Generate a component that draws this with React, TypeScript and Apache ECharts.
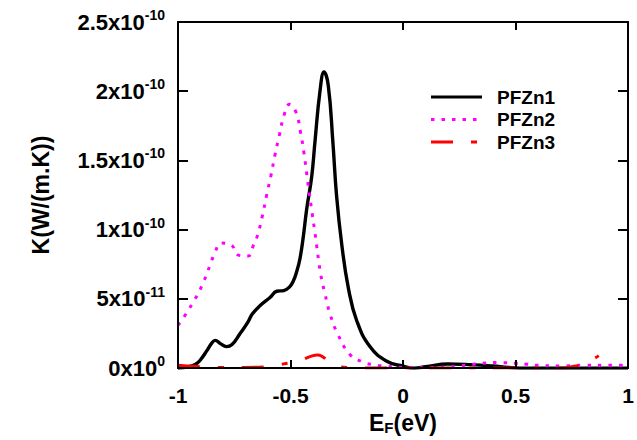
import React, { useEffect, useRef } from "react";
import * as echarts from "echarts";

// PFZn1 (black solid)
const pfzn1X = [-1.0, -0.95, -0.92, -0.9, -0.87, -0.85, -0.835, -0.81, -0.785, -0.76, -0.724, -0.69, -0.67, -0.636, -0.591, -0.561, -0.53, -0.505, -0.488, -0.472, -0.458, -0.443, -0.428, -0.406, -0.391, -0.369, -0.351, -0.332, -0.312, -0.295, -0.272, -0.243, -0.206, -0.147, -0.072, 0.0, 0.05, 0.1, 0.2, 0.3, 0.4, 0.47, 0.55, 0.75, 1.0];
const pfzn1Y = [0.0, 0.01, 0.03, 0.06, 0.13, 0.18, 0.2, 0.175, 0.155, 0.17, 0.25, 0.33, 0.39, 0.45, 0.51, 0.555, 0.56, 0.585, 0.627, 0.7, 0.79, 0.95, 1.15, 1.38, 1.64, 2.0, 2.14, 2.04, 1.64, 1.24, 0.89, 0.58, 0.344, 0.156, 0.05, 0.014, 0.0, 0.01, 0.03, 0.025, 0.015, 0.005, 0.0, 0.0, 0.0];

// PFZn2 (magenta dotted)
const pfzn2X = [-1.0, -0.961, -0.935, -0.91, -0.89, -0.872, -0.855, -0.836, -0.81, -0.764, -0.732, -0.688, -0.665, -0.647, -0.625, -0.606, -0.587, -0.569, -0.55, -0.528, -0.505, -0.476, -0.455, -0.44, -0.422, -0.404, -0.391, -0.366, -0.347, -0.324, -0.29, -0.236, -0.18, -0.135, -0.08, 0.0, 0.1, 0.2, 0.25, 0.3, 0.35, 0.42, 0.5, 0.55, 0.6, 0.7, 0.8, 0.9, 1.0];
const pfzn2Y = [0.31, 0.4, 0.47, 0.54, 0.61, 0.68, 0.757, 0.832, 0.903, 0.89, 0.816, 0.81, 0.887, 0.957, 1.1, 1.25, 1.39, 1.54, 1.68, 1.83, 1.905, 1.85, 1.7, 1.55, 1.33, 1.12, 0.974, 0.68, 0.538, 0.39, 0.245, 0.099, 0.045, 0.025, 0.014, 0.005, 0.003, 0.008, 0.015, 0.025, 0.035, 0.04, 0.035, 0.028, 0.02, 0.015, 0.02, 0.02, 0.02];

// PFZn3 (red dashed)
const pfzn3X = [-1.0, -0.95, -0.9, -0.8, -0.7, -0.6, -0.55, -0.5, -0.45, -0.41, -0.38, -0.36, -0.33, -0.3, -0.25, -0.1, 0.2, 0.5, 0.7, 0.75, 0.8, 0.85, 0.87];
const pfzn3Y = [0.02, 0.015, 0.01, 0.005, 0.005, 0.01, 0.025, 0.04, 0.06, 0.085, 0.095, 0.085, 0.05, 0.02, 0.005, 0.0, 0.0, 0.0, 0.0, 0.01, 0.03, 0.07, 0.09];

const SCALE = 1e-10;
const xTicks = [-1, -0.5, 0, 0.5, 1];
const seriesNames = ["PFZn1", "PFZn2", "PFZn3"];
const seriesColors = ["#000000", "#ff00ff", "#ff0000"];
const seriesDash: (number[] | null)[] = [null, [3.5, 7], [22, 18, 6, 18]];

const FONT = "'Liberation Sans', Arial, sans-serif";

function pairs(xs: number[], ys: number[]) {
  return xs.map((x, i) => [x, ys[i] * SCALE]);
}

function sciLabel(v: number) {
  if (v === 0) return "{m|0x10}{s|0}";
  const e = Math.floor(Math.log10(Math.abs(v)) + 1e-9);
  const m = parseFloat((v / Math.pow(10, e)).toFixed(2));
  return `{m|${m}x10}{s|${e}}`;
}

export default function App() {
  const ref = useRef<HTMLDivElement>(null);
  useEffect(() => {
    const chart = echarts.init(ref.current!, undefined, { renderer: "svg" });
    const axisLine = { show: true, onZero: false, lineStyle: { color: "#000", width: 2 } };
    const legendGraphics: any[] = [];
    seriesNames.forEach((name, i) => {
      const y = 97 + i * 22.5;
      legendGraphics.push({
        type: "line",
        shape: { x1: 431, y1: y, x2: 482, y2: y },
        style: {
          stroke: seriesColors[i],
          lineWidth: 3,
          lineDash: seriesDash[i] || undefined,
          lineCap: "butt",
        },
        z: 10,
      });
      legendGraphics.push({
        type: "text",
        x: 497,
        y: y,
        style: {
          text: name,
          fontFamily: FONT,
          fontWeight: "bold",
          fontSize: 19,
          fill: "#000",
          verticalAlign: "middle",
          align: "left",
        },
        z: 10,
      });
    });
    const makeSeries = (i: number, xs: number[], ys: number[]) => ({
      name: seriesNames[i],
      type: "line",
      data: pairs(xs, ys),
      smooth: 0.45,
      showSymbol: false,
      symbol: "none",
      z: 2,
      lineStyle: {
        color: seriesColors[i],
        width: i === 0 ? 3.4 : 3,
        type: seriesDash[i] || "solid",
        cap: "butt",
      },
      itemStyle: { color: seriesColors[i] },
    });
    chart.setOption({
      animation: false,
      backgroundColor: "#fff",
      grid: { left: 178, right: 9, top: 22, bottom: 65 },
      graphic: legendGraphics,
      xAxis: [
        {
          type: "value",
          min: -1,
          max: 1,
          interval: 0.5,
          z: 5,
          axisLine,
          splitLine: { show: false },
          axisTick: { inside: true, length: 8, lineStyle: { color: "#000", width: 2 } },
          axisLabel: {
            margin: 17,
            fontFamily: FONT,
            fontWeight: "bold",
            fontSize: 21,
            color: "#000",
            formatter: (v: number) => (xTicks.includes(v) ? String(v) : ""),
          },
          name: "{e|E}{f|F}{e|(eV)}",
          nameLocation: "middle",
          nameGap: 40,
          nameTextStyle: {
            rich: {
              e: { fontFamily: FONT, fontWeight: "bold", fontSize: 23, color: "#000" },
              f: { fontFamily: FONT, fontWeight: "bold", fontSize: 15, color: "#000", padding: [10, 0, 0, 0] },
            },
          },
        },
        {
          type: "value",
          position: "top",
          min: -1,
          max: 1,
          interval: 0.5,
          z: 5,
          axisLine,
          splitLine: { show: false },
          axisTick: { inside: true, length: 8, lineStyle: { color: "#000", width: 2 } },
          axisLabel: { show: false },
        },
      ],
      yAxis: [
        {
          type: "value",
          min: 0,
          max: 2.5e-10,
          interval: 0.5e-10,
          z: 5,
          axisLine,
          splitLine: { show: false },
          axisTick: { inside: true, length: 10, lineStyle: { color: "#000", width: 2 } },
          axisLabel: {
            margin: 13,
            formatter: (v: number) => sciLabel(v),
            rich: {
              m: { fontFamily: FONT, fontWeight: "bold", fontSize: 22, color: "#000" },
              s: { fontFamily: FONT, fontWeight: "bold", fontSize: 14, color: "#000", padding: [0, 0, 14, 0] },
            },
          },
          name: "K(W/(m.K))",
          nameLocation: "middle",
          nameGap: 126,
          nameTextStyle: { fontFamily: FONT, fontWeight: "bold", fontSize: 23, color: "#000" },
        },
        {
          type: "value",
          position: "right",
          min: 0,
          max: 2.5e-10,
          interval: 0.5e-10,
          z: 5,
          axisLine,
          splitLine: { show: false },
          axisTick: { inside: true, length: 10, lineStyle: { color: "#000", width: 2 } },
          axisLabel: { show: false },
        },
      ],
      series: [
        makeSeries(0, pfzn1X, pfzn1Y),
        makeSeries(1, pfzn2X, pfzn2Y),
        makeSeries(2, pfzn3X, pfzn3Y),
      ],
    });
    return () => chart.dispose();
  }, []);
  return <div ref={ref} style={{ width: 637, height: 440, position: "absolute", left: 0, top: 0 }} />;
}
